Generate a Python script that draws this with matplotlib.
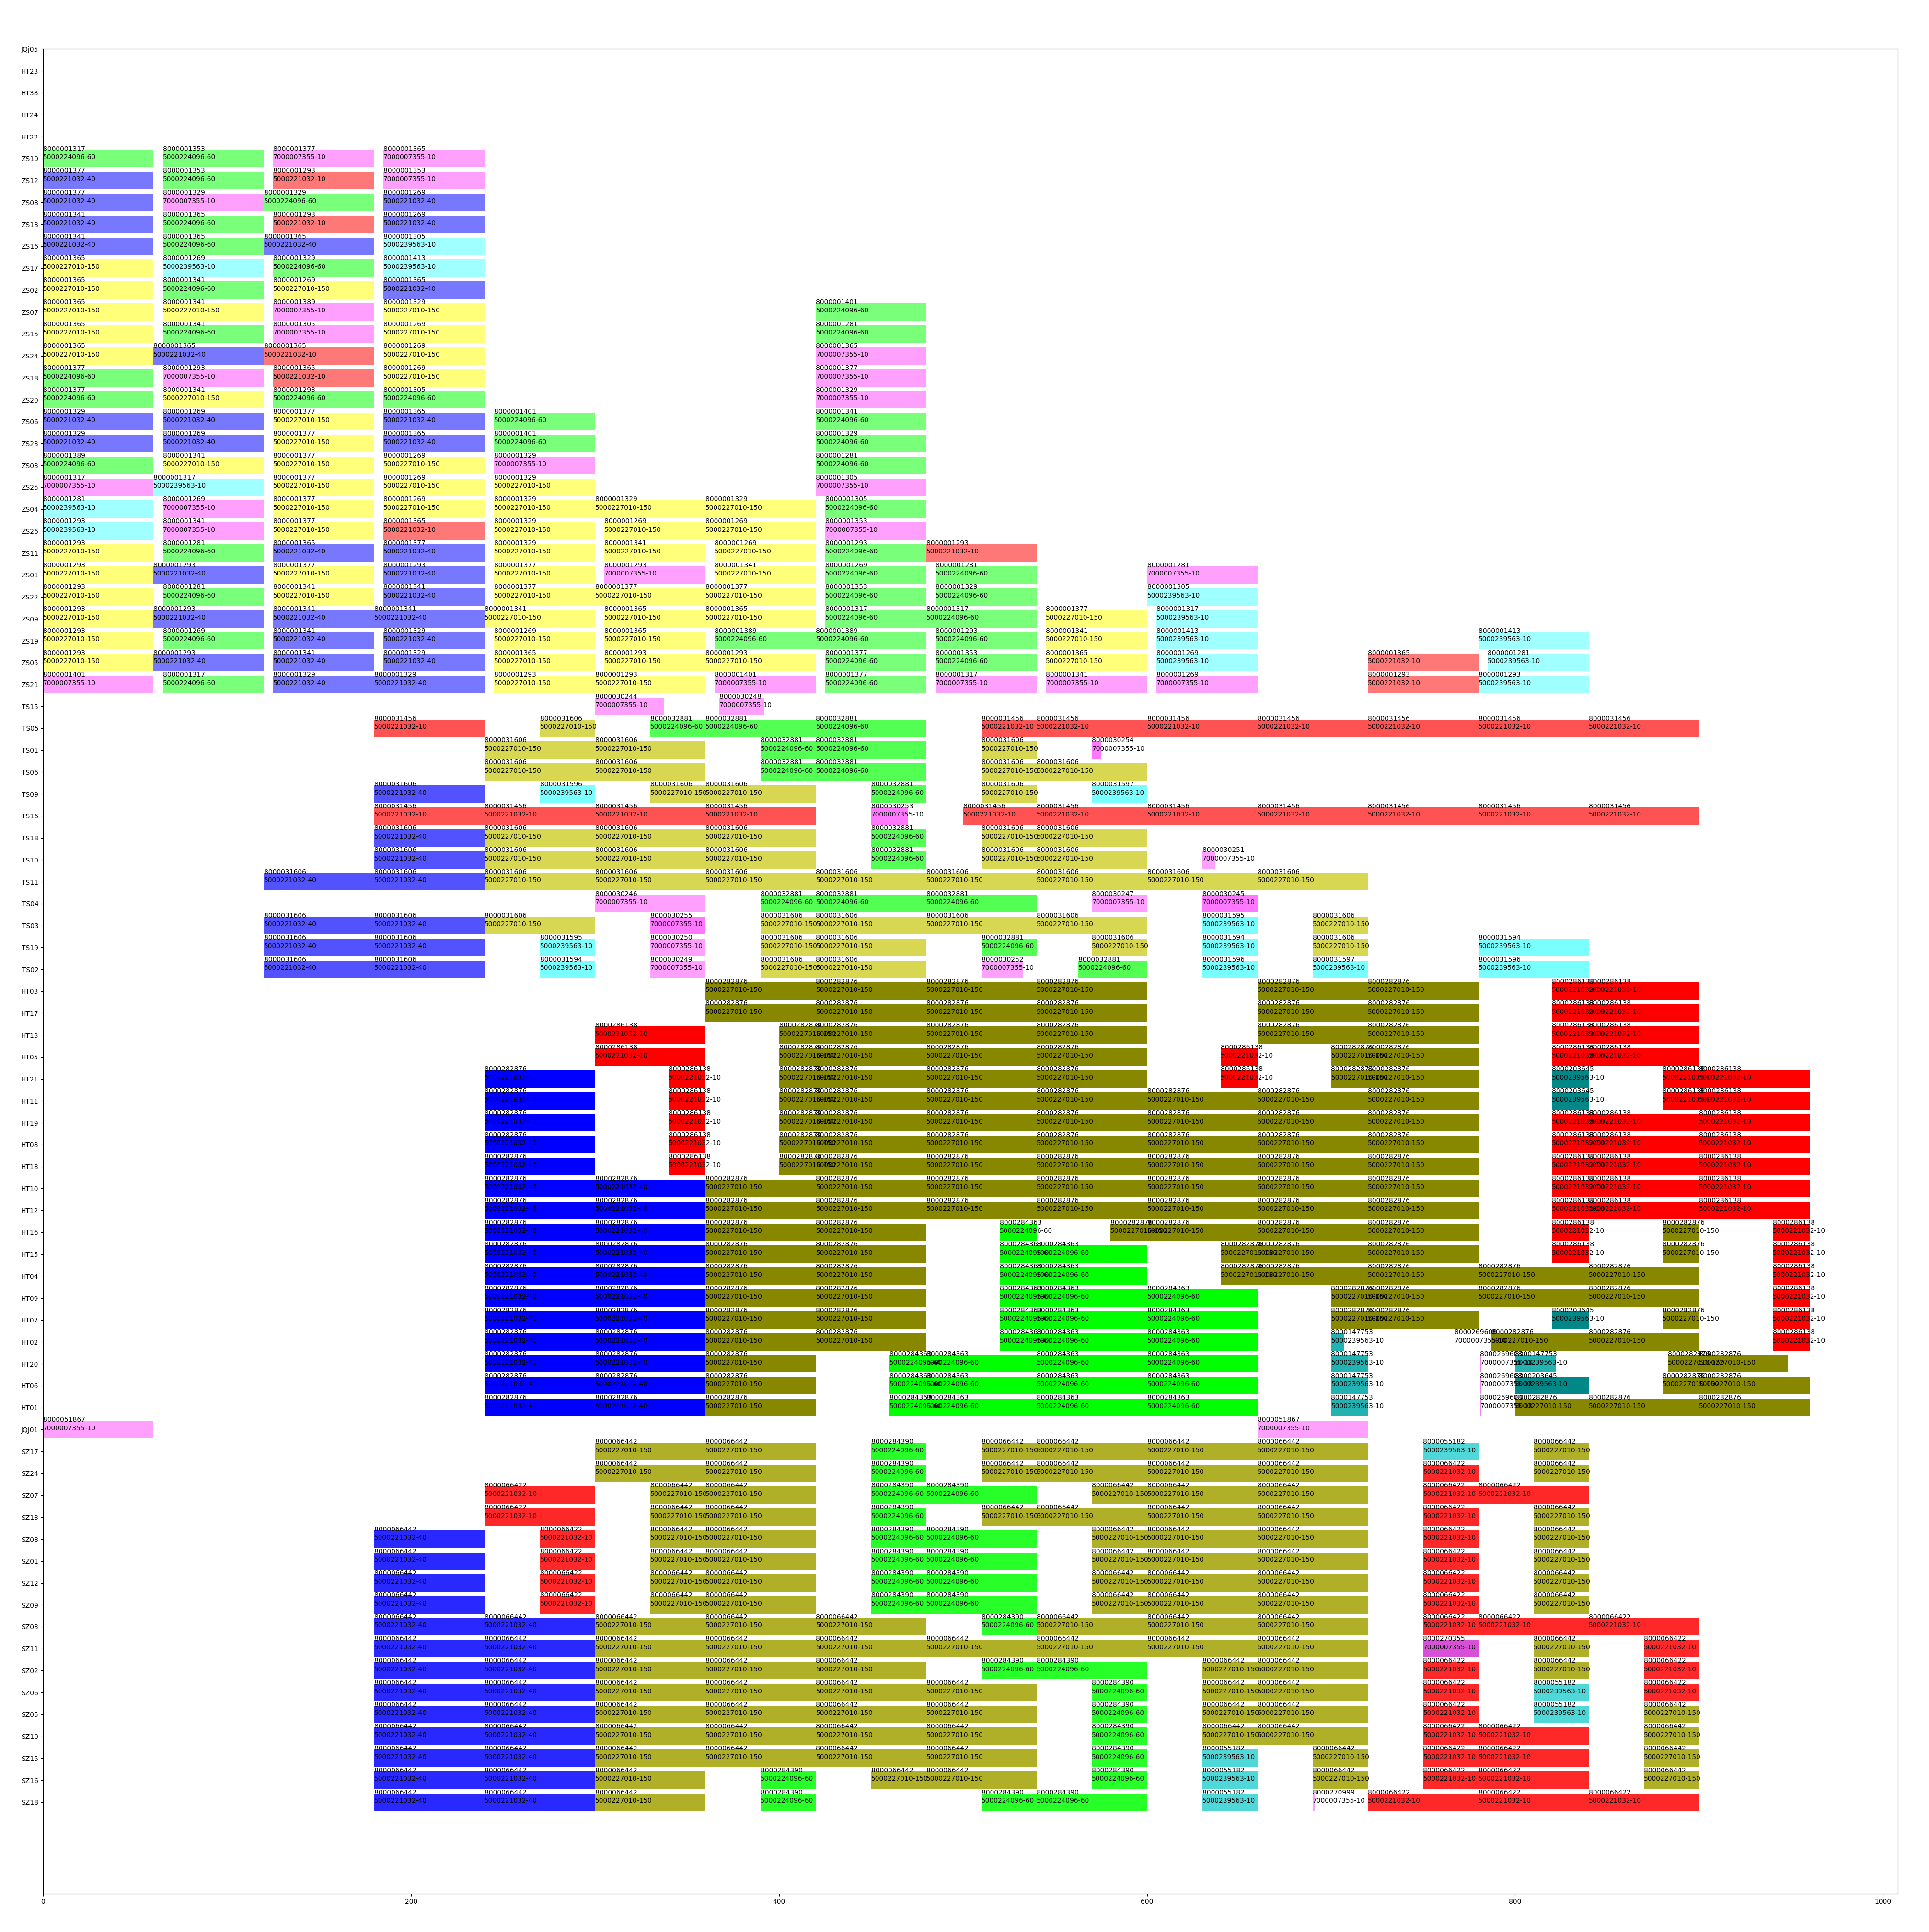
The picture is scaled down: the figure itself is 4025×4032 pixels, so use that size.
import matplotlib
matplotlib.use("Agg")
import matplotlib.pyplot as plt

ROW_LABELS = [
    "JQj05", "HT23", "HT38", "HT24", "HT22",
    "ZS10", "ZS12", "ZS08", "ZS13", "ZS16", "ZS17", "ZS02", "ZS07", "ZS15", "ZS24",
    "ZS18", "ZS20", "ZS06", "ZS23", "ZS03", "ZS25", "ZS04", "ZS26", "ZS11", "ZS01",
    "ZS22", "ZS09", "ZS19", "ZS05", "ZS21",
    "TS15", "TS05", "TS01", "TS06", "TS09", "TS16", "TS18", "TS10", "TS11", "TS04",
    "TS03", "TS19", "TS02",
    "HT03", "HT17", "HT13", "HT05", "HT21", "HT11", "HT19", "HT08", "HT18", "HT10",
    "HT12", "HT16", "HT15", "HT04", "HT09", "HT07", "HT02", "HT20", "HT06", "HT01",
    "JQJ01",
    "SZ17", "SZ24", "SZ07", "SZ13", "SZ08", "SZ01", "SZ12", "SZ09", "SZ03", "SZ11",
    "SZ02", "SZ06", "SZ05", "SZ10", "SZ15", "SZ16", "SZ18",
]

G = "5000224096-60"
B = "5000221032-40"
R = "5000221032-10"
P = "7000007355-10"
Y = "5000227010-150"
C = "5000239563-10"

# (machine, start, end, order, part)
ZS_BARS = [
    ("ZS10", 0, 60, "8000001317", G), ("ZS10", 65, 120, "8000001353", G),
    ("ZS10", 125, 180, "8000001377", P), ("ZS10", 185, 240, "8000001365", P),
    ("ZS12", 0, 60, "8000001377", B), ("ZS12", 65, 120, "8000001353", G),
    ("ZS12", 125, 180, "8000001293", R), ("ZS12", 185, 240, "8000001353", P),
    ("ZS08", 0, 60, "8000001377", B), ("ZS08", 65, 120, "8000001329", P),
    ("ZS08", 120, 180, "8000001329", G), ("ZS08", 185, 240, "8000001269", B),
    ("ZS13", 0, 60, "8000001341", B), ("ZS13", 65, 120, "8000001365", G),
    ("ZS13", 125, 180, "8000001293", R), ("ZS13", 185, 240, "8000001269", B),
    ("ZS16", 0, 60, "8000001341", B), ("ZS16", 65, 120, "8000001365", G),
    ("ZS16", 120, 180, "8000001365", B), ("ZS16", 185, 240, "8000001305", C),
    ("ZS17", 0, 60, "8000001365", Y), ("ZS17", 65, 120, "8000001269", C),
    ("ZS17", 125, 180, "8000001329", G), ("ZS17", 185, 240, "8000001413", C),
    ("ZS02", 0, 60, "8000001365", Y), ("ZS02", 65, 120, "8000001341", G),
    ("ZS02", 125, 180, "8000001269", Y), ("ZS02", 185, 240, "8000001365", B),
    ("ZS07", 0, 60, "8000001365", Y), ("ZS07", 65, 120, "8000001341", Y),
    ("ZS07", 125, 180, "8000001389", P), ("ZS07", 185, 240, "8000001329", Y),
    ("ZS07", 420, 480, "8000001401", G),
    ("ZS15", 0, 60, "8000001365", Y), ("ZS15", 65, 120, "8000001341", G),
    ("ZS15", 125, 180, "8000001305", P), ("ZS15", 185, 240, "8000001269", Y),
    ("ZS15", 420, 480, "8000001281", G),
    ("ZS24", 0, 60, "8000001365", Y), ("ZS24", 60, 120, "8000001365", B),
    ("ZS24", 120, 180, "8000001365", R), ("ZS24", 185, 240, "8000001269", Y),
    ("ZS24", 420, 480, "8000001365", P),
    ("ZS18", 0, 60, "8000001377", G), ("ZS18", 65, 120, "8000001293", P),
    ("ZS18", 125, 180, "8000001365", R), ("ZS18", 185, 240, "8000001269", Y),
    ("ZS18", 420, 480, "8000001377", P),
    ("ZS20", 0, 60, "8000001377", G), ("ZS20", 65, 120, "8000001341", Y),
    ("ZS20", 125, 180, "8000001293", G), ("ZS20", 185, 240, "8000001305", G),
    ("ZS20", 420, 480, "8000001329", P),
    ("ZS06", 0, 60, "8000001329", B), ("ZS06", 65, 120, "8000001269", B),
    ("ZS06", 125, 180, "8000001377", Y), ("ZS06", 185, 240, "8000001365", B),
    ("ZS06", 245, 300, "8000001401", G), ("ZS06", 420, 480, "8000001341", G),
    ("ZS23", 0, 60, "8000001329", B), ("ZS23", 65, 120, "8000001269", B),
    ("ZS23", 125, 180, "8000001377", Y), ("ZS23", 185, 240, "8000001365", B),
    ("ZS23", 245, 300, "8000001401", G), ("ZS23", 420, 480, "8000001329", G),
    ("ZS03", 0, 60, "8000001389", G), ("ZS03", 65, 120, "8000001341", Y),
    ("ZS03", 125, 180, "8000001377", Y), ("ZS03", 185, 240, "8000001269", Y),
    ("ZS03", 245, 300, "8000001329", P), ("ZS03", 420, 480, "8000001281", G),
    ("ZS25", 0, 60, "8000001317", P), ("ZS25", 60, 120, "8000001317", C),
    ("ZS25", 125, 180, "8000001377", Y), ("ZS25", 185, 240, "8000001269", Y),
    ("ZS25", 245, 300, "8000001329", Y), ("ZS25", 420, 480, "8000001305", P),
    ("ZS04", 0, 60, "8000001281", C), ("ZS04", 65, 120, "8000001269", P),
    ("ZS04", 125, 180, "8000001377", Y), ("ZS04", 185, 240, "8000001269", Y),
    ("ZS04", 245, 300, "8000001329", Y), ("ZS04", 300, 360, "8000001329", Y),
    ("ZS04", 360, 420, "8000001329", Y), ("ZS04", 425, 480, "8000001305", G),
    ("ZS26", 0, 60, "8000001293", C), ("ZS26", 65, 120, "8000001341", P),
    ("ZS26", 125, 180, "8000001377", Y), ("ZS26", 185, 240, "8000001365", R),
    ("ZS26", 245, 300, "8000001329", Y), ("ZS26", 305, 360, "8000001269", Y),
    ("ZS26", 360, 420, "8000001269", Y), ("ZS26", 425, 480, "8000001353", P),
    ("ZS11", 0, 60, "8000001293", Y), ("ZS11", 65, 120, "8000001281", G),
    ("ZS11", 125, 180, "8000001365", B), ("ZS11", 185, 240, "8000001377", B),
    ("ZS11", 245, 300, "8000001329", Y), ("ZS11", 305, 360, "8000001341", Y),
    ("ZS11", 365, 420, "8000001269", Y), ("ZS11", 425, 480, "8000001293", G),
    ("ZS11", 480, 540, "8000001293", R),
    ("ZS01", 0, 60, "8000001293", Y), ("ZS01", 60, 120, "8000001293", B),
    ("ZS01", 125, 180, "8000001377", Y), ("ZS01", 185, 240, "8000001293", B),
    ("ZS01", 245, 300, "8000001377", Y), ("ZS01", 305, 360, "8000001293", P),
    ("ZS01", 365, 420, "8000001341", Y), ("ZS01", 425, 480, "8000001269", G),
    ("ZS01", 485, 540, "8000001281", G), ("ZS01", 600, 660, "8000001281", P),
    ("ZS22", 0, 60, "8000001293", Y), ("ZS22", 65, 120, "8000001281", G),
    ("ZS22", 125, 180, "8000001341", Y), ("ZS22", 185, 240, "8000001341", B),
    ("ZS22", 245, 300, "8000001377", Y), ("ZS22", 300, 360, "8000001377", Y),
    ("ZS22", 360, 420, "8000001377", Y), ("ZS22", 425, 480, "8000001353", G),
    ("ZS22", 485, 540, "8000001329", G), ("ZS22", 600, 660, "8000001305", C),
    ("ZS09", 0, 60, "8000001293", Y), ("ZS09", 60, 120, "8000001293", B),
    ("ZS09", 125, 180, "8000001341", B), ("ZS09", 180, 240, "8000001341", B),
    ("ZS09", 240, 300, "8000001341", Y), ("ZS09", 305, 360, "8000001365", Y),
    ("ZS09", 360, 420, "8000001365", Y), ("ZS09", 425, 480, "8000001317", G),
    ("ZS09", 480, 540, "8000001317", G), ("ZS09", 545, 600, "8000001377", Y),
    ("ZS09", 605, 660, "8000001317", C),
    ("ZS19", 0, 60, "8000001293", Y), ("ZS19", 65, 120, "8000001269", G),
    ("ZS19", 125, 180, "8000001341", B), ("ZS19", 185, 240, "8000001329", B),
    ("ZS19", 245, 300, "8000001269", Y), ("ZS19", 305, 360, "8000001365", Y),
    ("ZS19", 365, 420, "8000001389", G), ("ZS19", 420, 480, "8000001389", G),
    ("ZS19", 485, 540, "8000001293", G), ("ZS19", 545, 600, "8000001341", Y),
    ("ZS19", 605, 660, "8000001413", C), ("ZS19", 780, 840, "8000001413", C),
    ("ZS05", 0, 60, "8000001293", Y), ("ZS05", 60, 120, "8000001293", B),
    ("ZS05", 125, 180, "8000001341", B), ("ZS05", 185, 240, "8000001329", B),
    ("ZS05", 245, 300, "8000001365", Y), ("ZS05", 305, 360, "8000001293", Y),
    ("ZS05", 360, 420, "8000001293", Y), ("ZS05", 425, 480, "8000001377", G),
    ("ZS05", 485, 540, "8000001353", G), ("ZS05", 545, 600, "8000001365", Y),
    ("ZS05", 605, 660, "8000001269", C), ("ZS05", 720, 780, "8000001365", R),
    ("ZS05", 785, 840, "8000001281", C),
    ("ZS21", 0, 60, "8000001401", P), ("ZS21", 65, 120, "8000001317", G),
    ("ZS21", 125, 180, "8000001329", B), ("ZS21", 180, 240, "8000001329", B),
    ("ZS21", 245, 300, "8000001293", Y), ("ZS21", 300, 360, "8000001293", Y),
    ("ZS21", 365, 420, "8000001401", P), ("ZS21", 425, 480, "8000001377", G),
    ("ZS21", 485, 540, "8000001317", P), ("ZS21", 545, 600, "8000001341", P),
    ("ZS21", 605, 660, "8000001269", P), ("ZS21", 720, 780, "8000001293", R),
    ("ZS21", 780, 840, "8000001293", C),
]

TS_BARS = [
    ("TS15", 300, 337.5, "8000030244", P), ("TS15", 367.5, 392, "8000030248", P),
    ("TS05", 180, 240, "8000031456", R), ("TS05", 270, 300, "8000031606", Y),
    ("TS05", 330, 360, "8000032881", G), ("TS05", 360, 420, "8000032881", G),
    ("TS05", 420, 480, "8000032881", G), ("TS05", 510, 540, "8000031456", R),
    ("TS05", 540, 600, "8000031456", R), ("TS05", 600, 660, "8000031456", R),
    ("TS05", 660, 720, "8000031456", R), ("TS05", 720, 780, "8000031456", R),
    ("TS05", 780, 840, "8000031456", R), ("TS05", 840, 900, "8000031456", R),
    ("TS01", 240, 300, "8000031606", Y), ("TS01", 300, 360, "8000031606", Y),
    ("TS01", 390, 420, "8000032881", G), ("TS01", 420, 480, "8000032881", G),
    ("TS01", 510, 540, "8000031606", Y), ("TS01", 570, 575, "8000030254", P),
    ("TS06", 240, 300, "8000031606", Y), ("TS06", 300, 360, "8000031606", Y),
    ("TS06", 390, 420, "8000032881", G), ("TS06", 420, 480, "8000032881", G),
    ("TS06", 510, 540, "8000031606", Y), ("TS06", 540, 600, "8000031606", Y),
    ("TS09", 180, 240, "8000031606", B), ("TS09", 270, 300, "8000031596", C),
    ("TS09", 330, 360, "8000031606", Y), ("TS09", 360, 420, "8000031606", Y),
    ("TS09", 450, 480, "8000032881", G), ("TS09", 510, 540, "8000031606", Y),
    ("TS09", 570, 600, "8000031597", C),
    ("TS16", 180, 240, "8000031456", R), ("TS16", 240, 300, "8000031456", R),
    ("TS16", 300, 360, "8000031456", R), ("TS16", 360, 420, "8000031456", R),
    ("TS16", 450, 470, "8000030253", P), ("TS16", 500, 540, "8000031456", R),
    ("TS16", 540, 600, "8000031456", R), ("TS16", 600, 660, "8000031456", R),
    ("TS16", 660, 720, "8000031456", R), ("TS16", 720, 780, "8000031456", R),
    ("TS16", 780, 840, "8000031456", R), ("TS16", 840, 900, "8000031456", R),
    ("TS18", 180, 240, "8000031606", B), ("TS18", 240, 300, "8000031606", Y),
    ("TS18", 300, 360, "8000031606", Y), ("TS18", 360, 420, "8000031606", Y),
    ("TS18", 450, 480, "8000032881", G), ("TS18", 510, 540, "8000031606", Y),
    ("TS18", 540, 600, "8000031606", Y),
    ("TS10", 180, 240, "8000031606", B), ("TS10", 240, 300, "8000031606", Y),
    ("TS10", 300, 360, "8000031606", Y), ("TS10", 360, 420, "8000031606", Y),
    ("TS10", 450, 480, "8000032881", G), ("TS10", 510, 540, "8000031606", Y),
    ("TS10", 540, 600, "8000031606", Y), ("TS10", 630, 637, "8000030251", P),
    ("TS11", 120, 180, "8000031606", B), ("TS11", 180, 240, "8000031606", B),
    ("TS11", 240, 300, "8000031606", Y), ("TS11", 300, 360, "8000031606", Y),
    ("TS11", 360, 420, "8000031606", Y), ("TS11", 420, 480, "8000031606", Y),
    ("TS11", 480, 540, "8000031606", Y), ("TS11", 540, 600, "8000031606", Y),
    ("TS11", 600, 660, "8000031606", Y), ("TS11", 660, 720, "8000031606", Y),
    ("TS04", 300, 360, "8000030246", P), ("TS04", 390, 420, "8000032881", G),
    ("TS04", 420, 480, "8000032881", G), ("TS04", 480, 540, "8000032881", G),
    ("TS04", 570, 600, "8000030247", P), ("TS04", 630, 660, "8000030245", P),
    ("TS03", 120, 180, "8000031606", B), ("TS03", 180, 240, "8000031606", B),
    ("TS03", 240, 300, "8000031606", Y), ("TS03", 330, 360, "8000030255", P),
    ("TS03", 390, 420, "8000031606", Y), ("TS03", 420, 480, "8000031606", Y),
    ("TS03", 480, 540, "8000031606", Y), ("TS03", 540, 600, "8000031606", Y),
    ("TS03", 630, 660, "8000031595", C), ("TS03", 690, 720, "8000031606", Y),
    ("TS19", 120, 180, "8000031606", B), ("TS19", 180, 240, "8000031606", B),
    ("TS19", 270, 300, "8000031595", C), ("TS19", 330, 360, "8000030250", P),
    ("TS19", 390, 420, "8000031606", Y), ("TS19", 420, 480, "8000031606", Y),
    ("TS19", 510, 540, "8000032881", G), ("TS19", 570, 600, "8000031606", Y),
    ("TS19", 630, 660, "8000031594", C), ("TS19", 690, 720, "8000031606", Y),
    ("TS19", 780, 840, "8000031594", C),
    ("TS02", 120, 180, "8000031606", B), ("TS02", 180, 240, "8000031606", B),
    ("TS02", 270, 300, "8000031594", C), ("TS02", 330, 360, "8000030249", P),
    ("TS02", 390, 420, "8000031606", Y), ("TS02", 420, 480, "8000031606", Y),
    ("TS02", 510, 532.5, "8000030252", P), ("TS02", 562.5, 600, "8000032881", G),
    ("TS02", 630, 660, "8000031596", C), ("TS02", 690, 720, "8000031597", C),
    ("TS02", 780, 840, "8000031596", C),
]

HT_BARS = [
    ("HT03", 360, 420, "8000282876", Y), ("HT03", 420, 480, "8000282876", Y),
    ("HT03", 480, 540, "8000282876", Y), ("HT03", 540, 600, "8000282876", Y),
    ("HT03", 660, 720, "8000282876", Y), ("HT03", 720, 780, "8000282876", Y),
    ("HT03", 820, 840, "8000286138", R), ("HT03", 840, 900, "8000286138", R),
    ("HT17", 360, 420, "8000282876", Y), ("HT17", 420, 480, "8000282876", Y),
    ("HT17", 480, 540, "8000282876", Y), ("HT17", 540, 600, "8000282876", Y),
    ("HT17", 660, 720, "8000282876", Y), ("HT17", 720, 780, "8000282876", Y),
    ("HT17", 820, 840, "8000286138", R), ("HT17", 840, 900, "8000286138", R),
    ("HT13", 300, 360, "8000286138", R), ("HT13", 400, 420, "8000282876", Y),
    ("HT13", 420, 480, "8000282876", Y), ("HT13", 480, 540, "8000282876", Y),
    ("HT13", 540, 600, "8000282876", Y), ("HT13", 660, 720, "8000282876", Y),
    ("HT13", 720, 780, "8000282876", Y), ("HT13", 820, 840, "8000286138", R),
    ("HT13", 840, 900, "8000286138", R),
    ("HT05", 300, 360, "8000286138", R), ("HT05", 400, 420, "8000282876", Y),
    ("HT05", 420, 480, "8000282876", Y), ("HT05", 480, 540, "8000282876", Y),
    ("HT05", 540, 600, "8000282876", Y), ("HT05", 640, 660, "8000286138", R),
    ("HT05", 700, 720, "8000282876", Y), ("HT05", 720, 780, "8000282876", Y),
    ("HT05", 820, 840, "8000286138", R), ("HT05", 840, 900, "8000286138", R),
    ("HT21", 240, 300, "8000282876", B), ("HT21", 340, 360, "8000286138", R),
    ("HT21", 400, 420, "8000282876", Y), ("HT21", 420, 480, "8000282876", Y),
    ("HT21", 480, 540, "8000282876", Y), ("HT21", 540, 600, "8000282876", Y),
    ("HT21", 640, 660, "8000286138", R), ("HT21", 700, 720, "8000282876", Y),
    ("HT21", 720, 780, "8000282876", Y), ("HT21", 820, 840, "8000203645", C),
    ("HT21", 880, 900, "8000286138", R), ("HT21", 900, 960, "8000286138", R),
    ("HT11", 240, 300, "8000282876", B), ("HT11", 340, 360, "8000286138", R),
    ("HT11", 400, 420, "8000282876", Y), ("HT11", 420, 480, "8000282876", Y),
    ("HT11", 480, 540, "8000282876", Y), ("HT11", 540, 600, "8000282876", Y),
    ("HT11", 600, 660, "8000282876", Y), ("HT11", 660, 720, "8000282876", Y),
    ("HT11", 720, 780, "8000282876", Y), ("HT11", 820, 840, "8000203645", C),
    ("HT11", 880, 900, "8000286138", R), ("HT11", 900, 960, "8000286138", R),
]
for _m in ("HT19", "HT08", "HT18"):
    HT_BARS += [
        (_m, 240, 300, "8000282876", B), (_m, 340, 360, "8000286138", R),
        (_m, 400, 420, "8000282876", Y), (_m, 420, 480, "8000282876", Y),
        (_m, 480, 540, "8000282876", Y), (_m, 540, 600, "8000282876", Y),
        (_m, 600, 660, "8000282876", Y), (_m, 660, 720, "8000282876", Y),
        (_m, 720, 780, "8000282876", Y), (_m, 820, 840, "8000286138", R),
        (_m, 840, 900, "8000286138", R), (_m, 900, 960, "8000286138", R),
    ]
for _m in ("HT10", "HT12"):
    HT_BARS += [
        (_m, 240, 300, "8000282876", B), (_m, 300, 360, "8000282876", B),
        (_m, 360, 420, "8000282876", Y), (_m, 420, 480, "8000282876", Y),
        (_m, 480, 540, "8000282876", Y), (_m, 540, 600, "8000282876", Y),
        (_m, 600, 660, "8000282876", Y), (_m, 660, 720, "8000282876", Y),
        (_m, 720, 780, "8000282876", Y), (_m, 820, 840, "8000286138", R),
        (_m, 840, 900, "8000286138", R), (_m, 900, 960, "8000286138", R),
    ]
HT_BARS += [
    ("HT16", 240, 300, "8000282876", B), ("HT16", 300, 360, "8000282876", B),
    ("HT16", 360, 420, "8000282876", Y), ("HT16", 420, 480, "8000282876", Y),
    ("HT16", 520, 540, "8000284363", G), ("HT16", 580, 600, "8000282876", Y),
    ("HT16", 600, 660, "8000282876", Y), ("HT16", 660, 720, "8000282876", Y),
    ("HT16", 720, 780, "8000282876", Y), ("HT16", 820, 840, "8000286138", R),
    ("HT16", 880, 900, "8000282876", Y), ("HT16", 940, 960, "8000286138", R),
    ("HT15", 240, 300, "8000282876", B), ("HT15", 300, 360, "8000282876", B),
    ("HT15", 360, 420, "8000282876", Y), ("HT15", 420, 480, "8000282876", Y),
    ("HT15", 520, 540, "8000284363", G), ("HT15", 540, 600, "8000284363", G),
    ("HT15", 640, 660, "8000282876", Y), ("HT15", 660, 720, "8000282876", Y),
    ("HT15", 720, 780, "8000282876", Y), ("HT15", 820, 840, "8000286138", R),
    ("HT15", 880, 900, "8000282876", Y), ("HT15", 940, 960, "8000286138", R),
    ("HT04", 240, 300, "8000282876", B), ("HT04", 300, 360, "8000282876", B),
    ("HT04", 360, 420, "8000282876", Y), ("HT04", 420, 480, "8000282876", Y),
    ("HT04", 520, 540, "8000284363", G), ("HT04", 540, 600, "8000284363", G),
    ("HT04", 640, 660, "8000282876", Y), ("HT04", 660, 720, "8000282876", Y),
    ("HT04", 720, 780, "8000282876", Y), ("HT04", 780, 840, "8000282876", Y),
    ("HT04", 840, 900, "8000282876", Y), ("HT04", 940, 960, "8000286138", R),
    ("HT09", 240, 300, "8000282876", B), ("HT09", 300, 360, "8000282876", B),
    ("HT09", 360, 420, "8000282876", Y), ("HT09", 420, 480, "8000282876", Y),
    ("HT09", 520, 540, "8000284363", G), ("HT09", 540, 600, "8000284363", G),
    ("HT09", 600, 660, "8000284363", G), ("HT09", 700, 720, "8000282876", Y),
    ("HT09", 720, 780, "8000282876", Y), ("HT09", 780, 840, "8000282876", Y),
    ("HT09", 840, 900, "8000282876", Y), ("HT09", 940, 960, "8000286138", R),
    ("HT07", 240, 300, "8000282876", B), ("HT07", 300, 360, "8000282876", B),
    ("HT07", 360, 420, "8000282876", Y), ("HT07", 420, 480, "8000282876", Y),
    ("HT07", 520, 540, "8000284363", G), ("HT07", 540, 600, "8000284363", G),
    ("HT07", 600, 660, "8000284363", G), ("HT07", 700, 720, "8000282876", Y),
    ("HT07", 720, 780, "8000282876", Y), ("HT07", 820, 840, "8000203645", C),
    ("HT07", 880, 900, "8000282876", Y), ("HT07", 940, 960, "8000286138", R),
    ("HT02", 240, 300, "8000282876", B), ("HT02", 300, 360, "8000282876", B),
    ("HT02", 360, 420, "8000282876", Y), ("HT02", 420, 480, "8000282876", Y),
    ("HT02", 520, 540, "8000284363", G), ("HT02", 540, 600, "8000284363", G),
    ("HT02", 600, 660, "8000284363", G), ("HT02", 700, 707, "8000147753", C),
    ("HT02", 767, 767.3, "8000269608", P), ("HT02", 787, 840, "8000282876", Y),
    ("HT02", 840, 900, "8000282876", Y), ("HT02", 940, 960, "8000286138", R),
    ("HT20", 240, 300, "8000282876", B), ("HT20", 300, 360, "8000282876", B),
    ("HT20", 360, 420, "8000282876", Y), ("HT20", 460, 480, "8000284363", G),
    ("HT20", 480, 540, "8000284363", G), ("HT20", 540, 600, "8000284363", G),
    ("HT20", 600, 660, "8000284363", G), ("HT20", 700, 720, "8000147753", C),
    ("HT20", 781, 781.3, "8000269608", P), ("HT20", 800, 822, "8000147753", C),
    ("HT20", 883, 900, "8000282876", Y), ("HT20", 900, 948, "8000282876", Y),
    ("HT06", 240, 300, "8000282876", B), ("HT06", 300, 360, "8000282876", B),
    ("HT06", 360, 420, "8000282876", Y), ("HT06", 460, 480, "8000284363", G),
    ("HT06", 480, 540, "8000284363", G), ("HT06", 540, 600, "8000284363", G),
    ("HT06", 600, 660, "8000284363", G), ("HT06", 700, 720, "8000147753", C),
    ("HT06", 781, 781.3, "8000269608", P), ("HT06", 800, 840, "8000203645", C),
    ("HT06", 880, 900, "8000282876", Y), ("HT06", 900, 960, "8000282876", Y),
    ("HT01", 240, 300, "8000282876", B), ("HT01", 300, 360, "8000282876", B),
    ("HT01", 360, 420, "8000282876", Y), ("HT01", 460, 480, "8000284363", G),
    ("HT01", 480, 540, "8000284363", G), ("HT01", 540, 600, "8000284363", G),
    ("HT01", 600, 660, "8000284363", G), ("HT01", 700, 720, "8000147753", C),
    ("HT01", 781, 781.3, "8000269608", P), ("HT01", 800, 840, "8000282876", Y),
    ("HT01", 840, 900, "8000282876", Y), ("HT01", 900, 960, "8000282876", Y),
]

JQ_BARS = [
    ("JQJ01", 0, 60, "8000051867", P), ("JQJ01", 660, 720, "8000051867", P),
]

SZ_BARS = [
    ("SZ17", 300, 360, "8000066442", Y), ("SZ17", 360, 420, "8000066442", Y),
    ("SZ17", 450, 480, "8000284390", G), ("SZ17", 510, 540, "8000066442", Y),
    ("SZ17", 540, 600, "8000066442", Y), ("SZ17", 600, 660, "8000066442", Y),
    ("SZ17", 660, 720, "8000066442", Y), ("SZ17", 750, 780, "8000055182", C),
    ("SZ17", 810, 840, "8000066442", Y),
    ("SZ24", 300, 360, "8000066442", Y), ("SZ24", 360, 420, "8000066442", Y),
    ("SZ24", 450, 480, "8000284390", G), ("SZ24", 510, 540, "8000066442", Y),
    ("SZ24", 540, 600, "8000066442", Y), ("SZ24", 600, 660, "8000066442", Y),
    ("SZ24", 660, 720, "8000066442", Y), ("SZ24", 750, 780, "8000066422", R),
    ("SZ24", 810, 840, "8000066442", Y),
    ("SZ07", 240, 300, "8000066422", R), ("SZ07", 330, 360, "8000066442", Y),
    ("SZ07", 360, 420, "8000066442", Y), ("SZ07", 450, 480, "8000284390", G),
    ("SZ07", 480, 540, "8000284390", G), ("SZ07", 570, 600, "8000066442", Y),
    ("SZ07", 600, 660, "8000066442", Y), ("SZ07", 660, 720, "8000066442", Y),
    ("SZ07", 750, 780, "8000066422", R), ("SZ07", 780, 840, "8000066422", R),
    ("SZ13", 240, 300, "8000066422", R), ("SZ13", 330, 360, "8000066442", Y),
    ("SZ13", 360, 420, "8000066442", Y), ("SZ13", 450, 480, "8000284390", G),
    ("SZ13", 510, 540, "8000066442", Y), ("SZ13", 540, 600, "8000066442", Y),
    ("SZ13", 600, 660, "8000066442", Y), ("SZ13", 660, 720, "8000066442", Y),
    ("SZ13", 750, 780, "8000066422", R), ("SZ13", 810, 840, "8000066442", Y),
]
for _m in ("SZ08", "SZ01", "SZ12", "SZ09"):
    SZ_BARS += [
        (_m, 180, 240, "8000066442", B), (_m, 270, 300, "8000066422", R),
        (_m, 330, 360, "8000066442", Y), (_m, 360, 420, "8000066442", Y),
        (_m, 450, 480, "8000284390", G), (_m, 480, 540, "8000284390", G),
        (_m, 570, 600, "8000066442", Y), (_m, 600, 660, "8000066442", Y),
        (_m, 660, 720, "8000066442", Y), (_m, 750, 780, "8000066422", R),
        (_m, 810, 840, "8000066442", Y),
    ]
SZ_BARS += [
    ("SZ03", 180, 240, "8000066442", B), ("SZ03", 240, 300, "8000066442", B),
    ("SZ03", 300, 360, "8000066442", Y), ("SZ03", 360, 420, "8000066442", Y),
    ("SZ03", 420, 480, "8000066442", Y), ("SZ03", 510, 540, "8000284390", G),
    ("SZ03", 540, 600, "8000066442", Y), ("SZ03", 600, 660, "8000066442", Y),
    ("SZ03", 660, 720, "8000066442", Y), ("SZ03", 750, 780, "8000066422", R),
    ("SZ03", 780, 840, "8000066422", R), ("SZ03", 840, 900, "8000066422", R),
    ("SZ11", 180, 240, "8000066442", B), ("SZ11", 240, 300, "8000066442", B),
    ("SZ11", 300, 360, "8000066442", Y), ("SZ11", 360, 420, "8000066442", Y),
    ("SZ11", 420, 480, "8000066442", Y), ("SZ11", 480, 540, "8000066442", Y),
    ("SZ11", 540, 600, "8000066442", Y), ("SZ11", 600, 660, "8000066442", Y),
    ("SZ11", 660, 720, "8000066442", Y), ("SZ11", 750, 780, "8000270355", P),
    ("SZ11", 810, 840, "8000066442", Y), ("SZ11", 870, 900, "8000066422", R),
    ("SZ02", 180, 240, "8000066442", B), ("SZ02", 240, 300, "8000066442", B),
    ("SZ02", 300, 360, "8000066442", Y), ("SZ02", 360, 420, "8000066442", Y),
    ("SZ02", 420, 480, "8000066442", Y), ("SZ02", 510, 540, "8000284390", G),
    ("SZ02", 540, 600, "8000284390", G), ("SZ02", 630, 660, "8000066442", Y),
    ("SZ02", 660, 720, "8000066442", Y), ("SZ02", 750, 780, "8000066422", R),
    ("SZ02", 810, 840, "8000066442", Y), ("SZ02", 870, 900, "8000066422", R),
]
for _m, _last_part, _last_order in (("SZ06", R, "8000066422"),
                                    ("SZ05", Y, "8000066442")):
    SZ_BARS += [
        (_m, 180, 240, "8000066442", B), (_m, 240, 300, "8000066442", B),
        (_m, 300, 360, "8000066442", Y), (_m, 360, 420, "8000066442", Y),
        (_m, 420, 480, "8000066442", Y), (_m, 480, 540, "8000066442", Y),
        (_m, 570, 600, "8000284390", G), (_m, 630, 660, "8000066442", Y),
        (_m, 660, 720, "8000066442", Y), (_m, 750, 780, "8000066422", R),
        (_m, 810, 840, "8000055182", C), (_m, 870, 900, _last_order, _last_part),
    ]
SZ_BARS += [
    ("SZ10", 180, 240, "8000066442", B), ("SZ10", 240, 300, "8000066442", B),
    ("SZ10", 300, 360, "8000066442", Y), ("SZ10", 360, 420, "8000066442", Y),
    ("SZ10", 420, 480, "8000066442", Y), ("SZ10", 480, 540, "8000066442", Y),
    ("SZ10", 570, 600, "8000284390", G), ("SZ10", 630, 660, "8000066442", Y),
    ("SZ10", 660, 720, "8000066442", Y), ("SZ10", 750, 780, "8000066422", R),
    ("SZ10", 780, 840, "8000066422", R), ("SZ10", 870, 900, "8000066442", Y),
    ("SZ15", 180, 240, "8000066442", B), ("SZ15", 240, 300, "8000066442", B),
    ("SZ15", 300, 360, "8000066442", Y), ("SZ15", 360, 420, "8000066442", Y),
    ("SZ15", 420, 480, "8000066442", Y), ("SZ15", 480, 540, "8000066442", Y),
    ("SZ15", 570, 600, "8000284390", G), ("SZ15", 630, 660, "8000055182", C),
    ("SZ15", 690, 720, "8000066442", Y), ("SZ15", 750, 780, "8000066422", R),
    ("SZ15", 780, 840, "8000066422", R), ("SZ15", 870, 900, "8000066442", Y),
    ("SZ16", 180, 240, "8000066442", B), ("SZ16", 240, 300, "8000066442", B),
    ("SZ16", 300, 360, "8000066442", Y), ("SZ16", 390, 420, "8000284390", G),
    ("SZ16", 450, 480, "8000066442", Y), ("SZ16", 480, 540, "8000066442", Y),
    ("SZ16", 570, 600, "8000284390", G), ("SZ16", 630, 660, "8000055182", C),
    ("SZ16", 690, 720, "8000066442", Y), ("SZ16", 750, 780, "8000066422", R),
    ("SZ16", 780, 840, "8000066422", R), ("SZ16", 870, 900, "8000066442", Y),
    ("SZ18", 180, 240, "8000066442", B), ("SZ18", 240, 300, "8000066442", B),
    ("SZ18", 300, 360, "8000066442", Y), ("SZ18", 390, 420, "8000284390", G),
    ("SZ18", 510, 540, "8000284390", G), ("SZ18", 540, 600, "8000284390", G),
    ("SZ18", 630, 660, "8000055182", C), ("SZ18", 690, 691, "8000270999", P),
    ("SZ18", 720, 780, "8000066422", R), ("SZ18", 780, 840, "8000066422", R),
    ("SZ18", 840, 900, "8000066422", R),
]

GROUP_COLORS = {
    "ZS": {G: "#7aff7a", B: "#7878ff", R: "#ff7878", P: "#ffa0ff", Y: "#ffff7a", C: "#a0ffff"},
    "TS": {G: "#52ff52", B: "#5252ff", R: "#ff5252", P: "#ffa0ff", Y: "#d7d752", C: "#7affff"},
    "HT": {G: "#00ff00", B: "#0000ff", R: "#ff0000", P: "#ee82ee", Y: "#878700", C: "#008888"},
    "JQ": {P: "#ffa0ff"},
    "SZ": {G: "#28ff28", B: "#2828ff", R: "#ff2828", P: "#ffa0ff", Y: "#afaf28", C: "#50d8d8"},
}
ORDER_COLORS = {
    "8000030255": "#ff78ff", "8000030253": "#ff78ff", "8000030245": "#ff78ff",
    "8000030254": "#ff78ff", "8000147753": "#22b2b2", "8000270355": "#d850d8",
}

plt.rcParams["font.family"] = ["DejaVu Sans"]
fig = plt.figure(figsize=(40.25, 40.32), dpi=100)
ax = fig.add_axes([0.02236, 0.01984, 0.96149, 0.95479])
ypos = {name: i for i, name in enumerate(ROW_LABELS)}

groups = (("ZS", ZS_BARS), ("TS", TS_BARS), ("HT", HT_BARS), ("JQ", JQ_BARS), ("SZ", SZ_BARS))
for grp, bars in groups:
    for row, s, e, order, part in bars:
        color = ORDER_COLORS.get(order, GROUP_COLORS[grp][part])
        ax.barh(ypos[row], e - s, left=s, height=0.8, color=color, linewidth=0, zorder=2)
for grp, bars in groups:
    for row, s, e, order, part in bars:
        y = ypos[row]
        ax.text(s, y - 0.355, order, fontsize=10, ha="left", va="baseline", zorder=3)
        ax.text(s, y + 0.03, part, fontsize=10, ha="left", va="baseline", zorder=3)

ax.set_yticks(range(len(ROW_LABELS)))
ax.set_yticklabels(ROW_LABELS, fontsize=10)
ax.tick_params(axis="x", labelsize=10)
ax.set_xticks([0, 200, 400, 600, 800, 1000])
ax.set_xlim(0, 1008)
ax.set_ylim(84.18, 0)
fig.savefig("out.png", dpi=100)
